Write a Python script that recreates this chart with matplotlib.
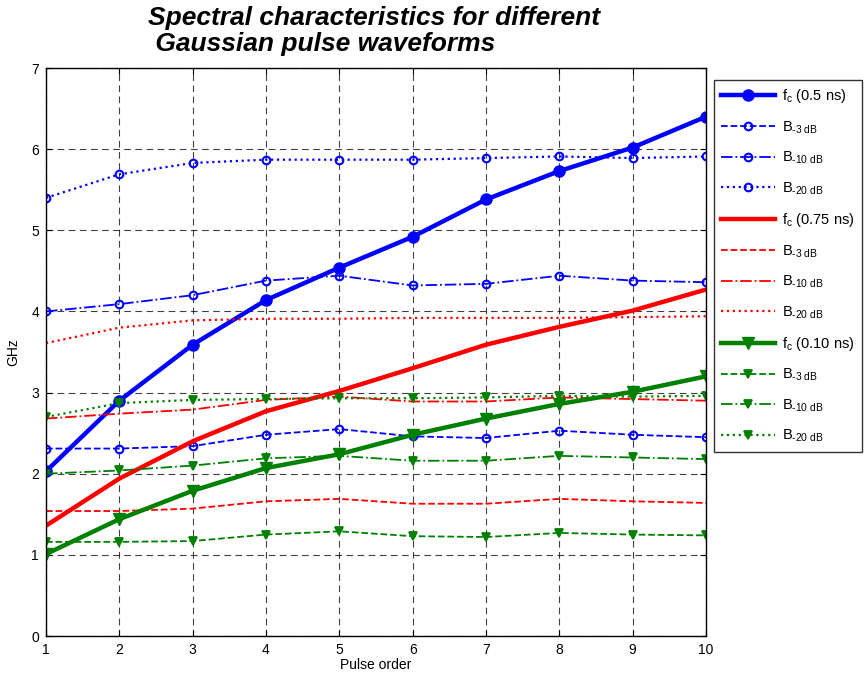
import numpy as np
import matplotlib
matplotlib.use("Agg")
import matplotlib.pyplot as plt

plt.rcParams["font.family"] = ["Liberation Sans", "DejaVu Sans"]
plt.rcParams["mathtext.fontset"] = "custom"
plt.rcParams["mathtext.rm"] = "Liberation Sans"
plt.rcParams["mathtext.it"] = "Liberation Sans:italic"
plt.rcParams["mathtext.bf"] = "Liberation Sans:bold"

order = np.arange(1, 11)

# 0.5 ns pulse
fc_05 = [2.03, 2.90, 3.59, 4.14, 4.54, 4.92, 5.38, 5.73, 6.02, 6.40]
b3_05 = [2.31, 2.31, 2.34, 2.48, 2.55, 2.46, 2.44, 2.53, 2.48, 2.45]
b10_05 = [4.00, 4.09, 4.20, 4.38, 4.44, 4.32, 4.34, 4.44, 4.38, 4.36]
b20_05 = [5.40, 5.69, 5.83, 5.87, 5.87, 5.87, 5.89, 5.91, 5.89, 5.91]

# 0.75 ns pulse
fc_075 = [1.36, 1.94, 2.40, 2.77, 3.02, 3.30, 3.59, 3.81, 4.01, 4.27]
b3_075 = [1.54, 1.54, 1.57, 1.66, 1.69, 1.63, 1.63, 1.69, 1.66, 1.64]
b10_075 = [2.68, 2.74, 2.79, 2.91, 2.95, 2.89, 2.89, 2.94, 2.92, 2.90]
b20_075 = [3.61, 3.80, 3.89, 3.91, 3.91, 3.92, 3.92, 3.92, 3.93, 3.94]

# 0.10 ns pulse
fc_010 = [1.01, 1.44, 1.79, 2.07, 2.24, 2.48, 2.68, 2.86, 3.01, 3.20]
b3_010 = [1.16, 1.16, 1.17, 1.25, 1.29, 1.23, 1.22, 1.27, 1.25, 1.24]
b10_010 = [2.00, 2.04, 2.10, 2.19, 2.22, 2.16, 2.16, 2.22, 2.20, 2.18]
b20_010 = [2.70, 2.87, 2.91, 2.92, 2.93, 2.93, 2.94, 2.96, 2.95, 2.96]

BLUE = "#0000ff"
RED = "#ff0000"
GREEN = "#008000"

HY = "\u2010"  # plain hyphen, mathtext would turn "-" into a minus sign


def blab(db):
    return r"B$_{\rm " + HY + db + r"\ dB}$"


fig = plt.figure(figsize=(8.67, 6.8), dpi=100)
ax = fig.add_axes([46 / 867, 1 - 636 / 680, 660 / 867, 568 / 680])

thin = 1.3
thick = 3.2

ax.plot(order, fc_05, "-", color=BLUE, lw=thick, marker="o", ms=8, label=r"f$_{\rm c}$ (0.5 ns)")
ax.plot(order, b3_05, "--", color=BLUE, lw=thin, marker="o", ms=5.5, mfc="none", mew=1.5, label=blab("3"))
ax.plot(order, b10_05, "-.", color=BLUE, lw=thin, marker="o", ms=5.5, mfc="none", mew=1.5, label=blab("10"))
ax.plot(order, b20_05, ":", color=BLUE, lw=1.6, marker="o", ms=5.5, mfc="none", mew=1.5, label=blab("20"))

ax.plot(order, fc_075, "-", color=RED, lw=thick, label=r"f$_{\rm c}$ (0.75 ns)")
ax.plot(order, b3_075, "--", color=RED, lw=thin, label=blab("3"))
ax.plot(order, b10_075, "-.", color=RED, lw=thin, label=blab("10"))
ax.plot(order, b20_075, ":", color=RED, lw=1.6, label=blab("20"))

ax.plot(order, fc_010, "-", color=GREEN, lw=thick, marker="v", ms=9, label=r"f$_{\rm c}$ (0.10 ns)")
ax.plot(order, b3_010, "--", color=GREEN, lw=thin, marker="v", ms=6, mew=1.3, label=blab("3"))
ax.plot(order, b10_010, "-.", color=GREEN, lw=thin, marker="v", ms=6, mew=1.3, label=blab("10"))
ax.plot(order, b20_010, ":", color=GREEN, lw=1.6, marker="v", ms=6, mew=1.3, label=blab("20"))

ax.set_xlim(1, 10)
ax.set_ylim(0, 7)
ax.set_xticks(order)
ax.set_yticks(range(0, 8))
ax.grid(True, color="black", linestyle=(0, (6, 4)), linewidth=0.8, alpha=0.75)
ax.tick_params(direction="in", top=True, right=True, labelsize=10, length=4, pad=5)
for s in ax.spines.values():
    s.set_linewidth(1.0)
ax.set_xlabel("Pulse order", fontsize=10, labelpad=1)
ax.set_ylabel("GHz", fontsize=10, labelpad=8)

fig.text(148 / 867, 1 - 31 / 680,
         "Spectral characteristics for different\n Gaussian pulse waveforms",
         ha="left", va="center", fontsize=19, fontweight="bold", fontstyle="italic",
         linespacing=1.12, multialignment="left")

leg = ax.legend(loc="upper left", bbox_to_anchor=(714 / 867, 1 - 80 / 680),
                bbox_transform=fig.transFigure, borderaxespad=0, frameon=True,
                fancybox=False, edgecolor="black", fontsize=10.5, handlelength=3.7,
                handletextpad=0.45, labelspacing=0.97, borderpad=0.5, numpoints=1)
leg.get_frame().set_linewidth(1.0)

fig.savefig("out.png", dpi=100)
